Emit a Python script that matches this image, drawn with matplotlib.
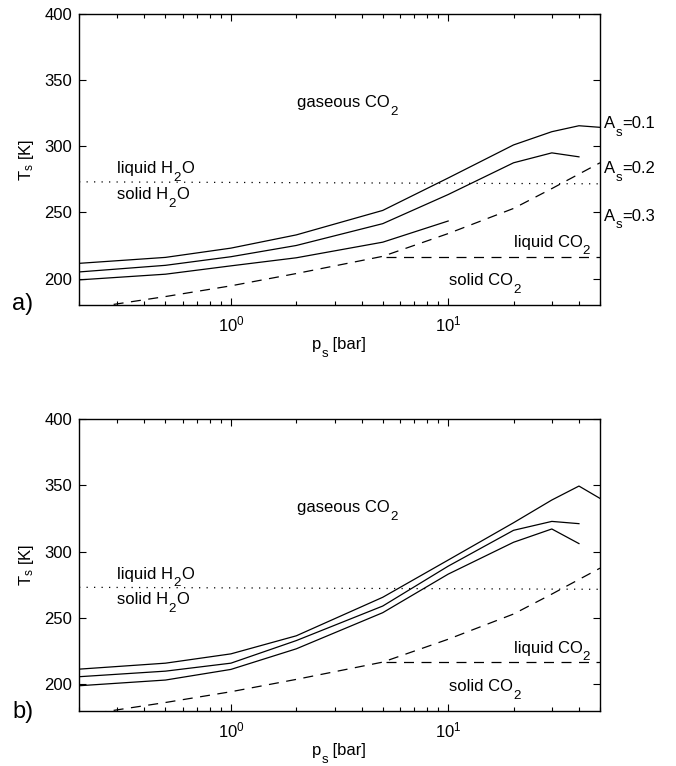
import numpy as np
import matplotlib
matplotlib.use('Agg')
import matplotlib.pyplot as plt
import matplotlib.transforms as mtransforms

plt.rcParams['font.family'] = ['Liberation Sans', 'DejaVu Sans']
plt.rcParams['mathtext.fontset'] = 'custom'
plt.rcParams['mathtext.rm'] = 'Liberation Sans'
plt.rcParams['mathtext.it'] = 'Liberation Sans'
plt.rcParams['mathtext.default'] = 'regular'
plt.rcParams['font.size'] = 12

# surface pressure grid [bar]
p_grid = [0.2, 0.5, 1, 2, 5, 10, 20, 30, 40, 50]

# panel a) surface temperature [K] for A_s = 0.1, 0.2, 0.3
Ta_01 = [211.5, 216, 223, 233, 251.5, 276, 301, 311, 315.5, 314.3]
Ta_02 = [205, 210, 216.5, 225, 241.5, 263.5, 287.5, 295, 292]
Ta_03 = [199, 203.3, 209.6, 215.7, 227.5, 243.5]

# panel b)
Tb_01 = [211.5, 216, 223, 236.6, 265.6, 293.6, 321.7, 338.8, 349.3, 340]
Tb_02 = [205.8, 210, 216, 233, 259, 289, 316, 322.7, 321]
Tb_03 = [199, 203.3, 211.3, 226.8, 254, 283, 307, 317, 306]

# CO2 saturation (sublimation / vaporization) curve
T_co2_sat = [176.5, 186.4, 194.5, 203.8, 216.8, 234, 253, 268, 279, 287.5]
# CO2 triple point line
p_co2_tp = [5.18, 50]
T_co2_tp = [216.6, 216.6]
# H2O freezing line
p_h2o = [0.2, 50]
T_h2o = [273.1, 271.6]

FS = 12
SUB = 0.8


def chem_text(ax, x, y, parts, transform=None):
    # text with lowered subscripts, parts = [(string, is_subscript), ...]
    if transform is None:
        transform = ax.transData
    base = ax.text(x, y, parts[0][0], fontsize=FS, ha='left', va='baseline',
                   transform=transform)
    prev = base
    for s, sub in parts[1:]:
        dy = -5.5 if sub else 0
        size = FS * SUB if sub else FS
        prev = ax.annotate(s, xy=(1, 0), xycoords=(prev, base), xytext=(0.2, dy),
                           textcoords='offset points', fontsize=size,
                           ha='left', va='bottom')
    return base


def draw_panel(ax, T1, T2, T3, show_albedo):
    ax.plot(p_grid[:len(T1)], T1, color='black', lw=0.9)
    ax.plot(p_grid[:len(T2)], T2, color='black', lw=0.9)
    ax.plot(p_grid[:len(T3)], T3, color='black', lw=0.9)
    ax.plot(p_grid, T_co2_sat, color='black', lw=0.9, linestyle=(0, (8, 6)))
    ax.plot(p_co2_tp, T_co2_tp, color='black', lw=0.9, linestyle=(0, (8, 6)))
    ax.plot(p_h2o, T_h2o, color='black', lw=0.9, linestyle=(0, (1, 5)))

    ax.set_xscale('log')
    ax.set_xlim(0.2, 50)
    ax.set_ylim(180, 400)
    ax.set_yticks([200, 250, 300, 350, 400])
    ax.set_xticks([1, 10])
    ax.set_xticklabels([r'$10^0$', r'$10^1$'])
    ax.tick_params(which='both', direction='in', top=True, right=True)
    ax.tick_params(which='major', length=5, width=0.8, labelsize=FS, pad=5)
    ax.tick_params(axis='x', which='major', pad=7)
    ax.tick_params(which='minor', length=3, width=0.8)
    for s in ax.spines.values():
        s.set_linewidth(1.0)

    ax.set_ylabel(r'T$_s$ [K]', fontsize=FS, labelpad=6)
    chem_text(ax, 0.4466, -0.152, [('p', False), ('s', True), (' [bar]', False)],
              transform=ax.transAxes)

    chem_text(ax, 2.02, 329.7, [('gaseous CO', False), ('2', True)])
    chem_text(ax, 0.30, 279.6, [('liquid H', False), ('2', True), ('O', False)])
    chem_text(ax, 0.30, 260.2, [('solid H', False), ('2', True), ('O', False)])
    chem_text(ax, 20.0, 224.0, [('liquid CO', False), ('2', True)])
    chem_text(ax, 10.05, 195.0, [('solid CO', False), ('2', True)])

    if show_albedo:
        trans = mtransforms.blended_transform_factory(ax.transAxes, ax.transData)
        for lab, t in [('0.1', 313.5), ('0.2', 279.6), ('0.3', 243.8)]:
            chem_text(ax, 1.0077, t, [('A', False), ('s', True), ('=' + lab, False)],
                      transform=trans)


fig = plt.figure(figsize=(6.76, 7.66), dpi=100)
ax1 = fig.add_axes([0.1169, 0.6018, 0.7707, 0.380])
ax2 = fig.add_axes([0.1169, 0.0718, 0.7707, 0.3816])

draw_panel(ax1, Ta_01, Ta_02, Ta_03, True)
draw_panel(ax2, Tb_01, Tb_02, Tb_03, False)

fig.text(0.018, 1 - 304 / 766, 'a)', fontsize=17, ha='left', va='center')
fig.text(0.018, 1 - 712 / 766, 'b)', fontsize=17, ha='left', va='center')

fig.savefig('out.png', dpi=100)
